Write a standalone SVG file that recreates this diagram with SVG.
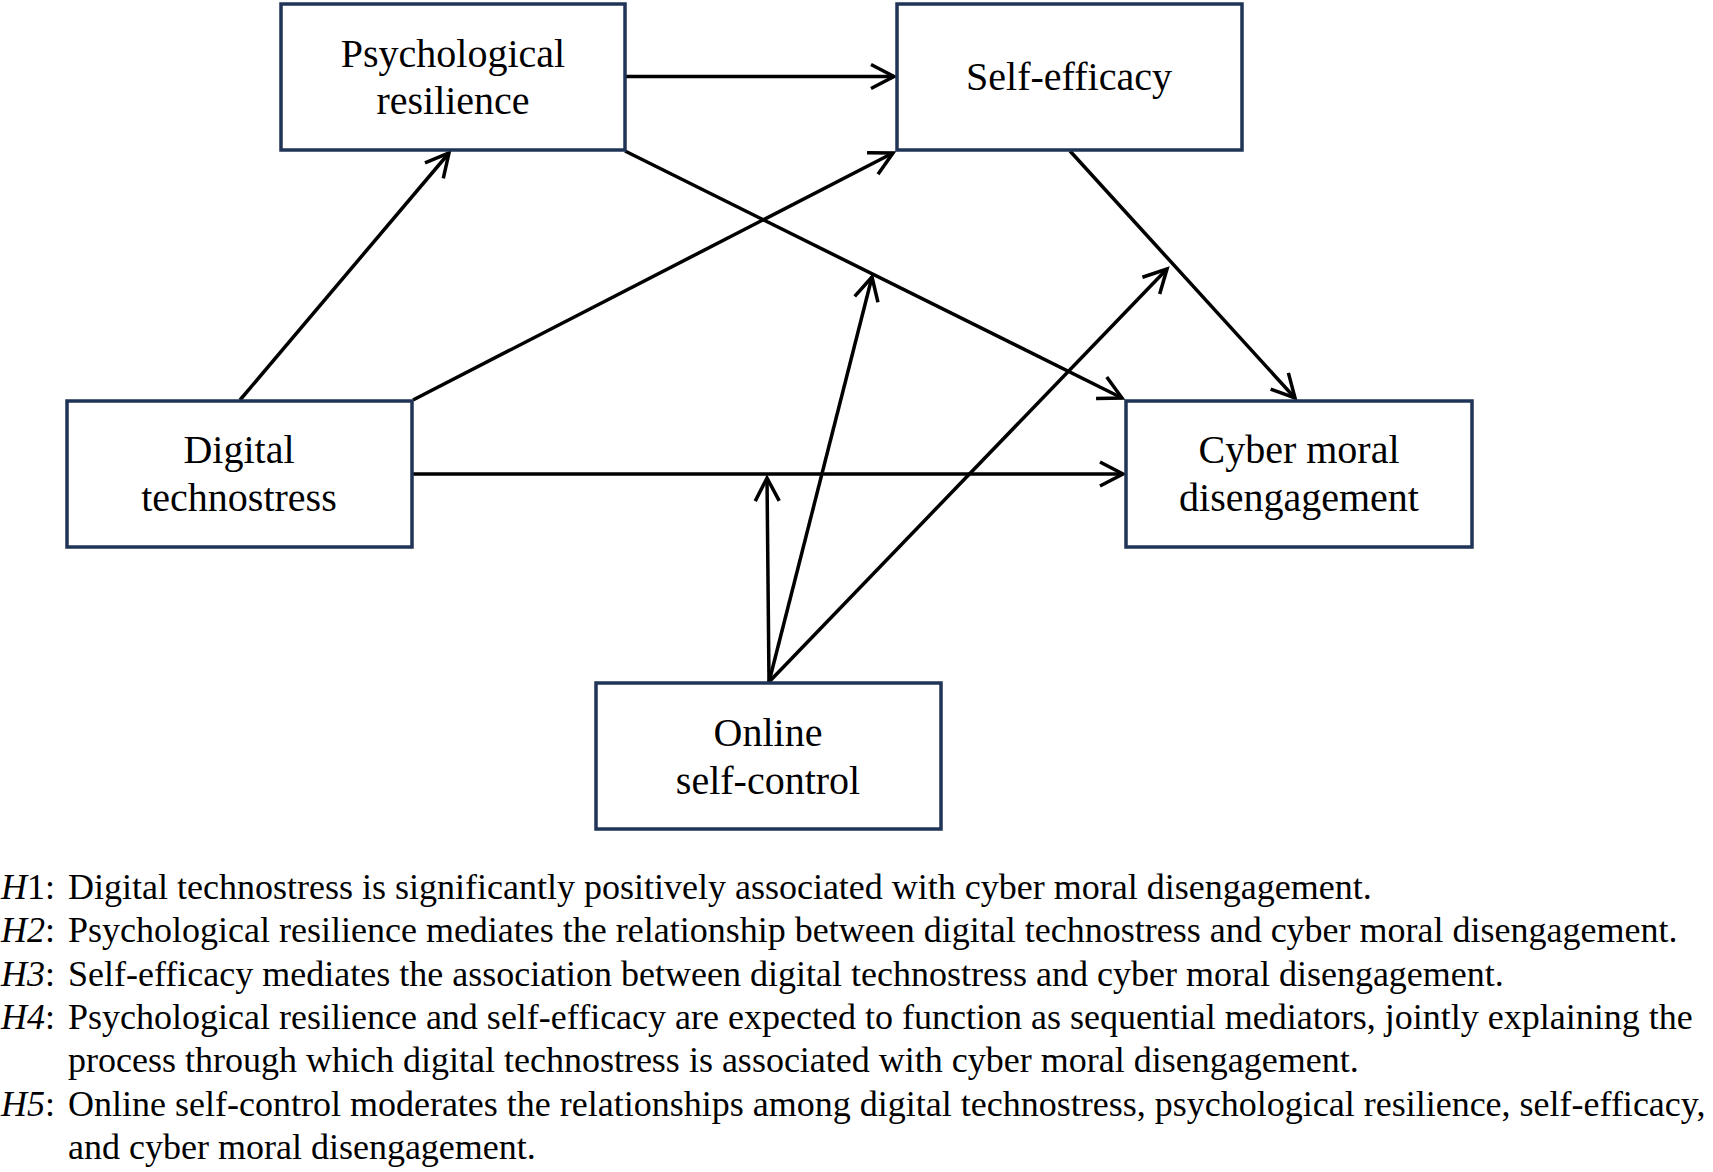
<svg xmlns="http://www.w3.org/2000/svg" width="1713" height="1172" viewBox="0 0 1713 1172">
<style>
.box{fill:#fff;stroke:#1f3456;stroke-width:3.5}
.nt{font-family:"Liberation Serif","Times New Roman",serif;font-size:40px;fill:#000;text-anchor:middle}
.ln{stroke:#000;stroke-width:3.5;fill:none;marker-end:url(#arr)}
.ht{font-family:"Liberation Serif","Times New Roman",serif;font-size:36px;fill:#000}
.it{font-style:italic}
</style>
<defs>
<marker id="arr" viewBox="-30 -16 34 32" refX="0" refY="0" markerWidth="34" markerHeight="32" markerUnits="userSpaceOnUse" orient="auto">
<path d="M-23,-12 L0,0 L-23,12" fill="none" stroke="#000" stroke-width="3.5" stroke-linejoin="miter"/>
</marker>
</defs>
<rect width="1713" height="1172" fill="#fff"/>
<g id="connectors">
<line class="ln" x1="625" y1="76.5" x2="894" y2="76.5"/>
<line class="ln" x1="240" y1="400" x2="449" y2="153"/>
<line class="ln" x1="413" y1="400" x2="893" y2="153"/>
<line class="ln" x1="625" y1="151" x2="1122" y2="398"/>
<line class="ln" x1="1070" y1="151" x2="1295" y2="398"/>
<line class="ln" x1="412" y1="474" x2="1123" y2="474"/>
<line class="ln" x1="769" y1="682" x2="767" y2="478"/>
<line class="ln" x1="769" y1="682" x2="872" y2="277"/>
<line class="ln" x1="769" y1="682" x2="1167" y2="269"/>
</g>
<g id="node-resilience">
<rect class="box" x="281" y="4" width="344" height="146"/>
<text class="nt" x="453" y="67">Psychological</text>
<text class="nt" x="453" y="114">resilience</text>
</g>
<g id="node-selfefficacy">
<rect class="box" x="897" y="4" width="345" height="146"/>
<text class="nt" x="1069" y="90">Self-efficacy</text>
</g>
<g id="node-technostress">
<rect class="box" x="67" y="401" width="345" height="146"/>
<text class="nt" x="239" y="463">Digital</text>
<text class="nt" x="239" y="511">technostress</text>
</g>
<g id="node-cyber">
<rect class="box" x="1126" y="401" width="346" height="146"/>
<text class="nt" x="1299" y="463">Cyber moral</text>
<text class="nt" x="1299" y="511">disengagement</text>
</g>
<g id="node-online">
<rect class="box" x="596" y="683" width="345" height="146"/>
<text class="nt" x="768" y="746">Online</text>
<text class="nt" x="768" y="794">self-control</text>
</g>
<g id="hypotheses">
<text class="ht" x="1" y="899"><tspan class="it">H</tspan>1:</text>
<text class="ht" x="68" y="899">Digital technostress is significantly positively associated with cyber moral disengagement.</text>
<text class="ht" x="1" y="942.3"><tspan class="it">H2</tspan>:</text>
<text class="ht" x="68" y="942.3">Psychological resilience mediates the relationship between digital technostress and cyber moral disengagement.</text>
<text class="ht" x="1" y="985.6"><tspan class="it">H3</tspan>:</text>
<text class="ht" x="68" y="985.6">Self-efficacy mediates the association between digital technostress and cyber moral disengagement.</text>
<text class="ht" x="1" y="1029"><tspan class="it">H4</tspan>:</text>
<text class="ht" x="68" y="1029">Psychological resilience and self-efficacy are expected to function as sequential mediators, jointly explaining the</text>
<text class="ht" x="68" y="1072.2">process through which digital technostress is associated with cyber moral disengagement.</text>
<text class="ht" x="1" y="1115.5"><tspan class="it">H5</tspan>:</text>
<text class="ht" x="68" y="1115.5">Online self-control moderates the relationships among digital technostress, psychological resilience, self-efficacy,</text>
<text class="ht" x="68" y="1158.8">and cyber moral disengagement.</text>
</g>
</svg>
